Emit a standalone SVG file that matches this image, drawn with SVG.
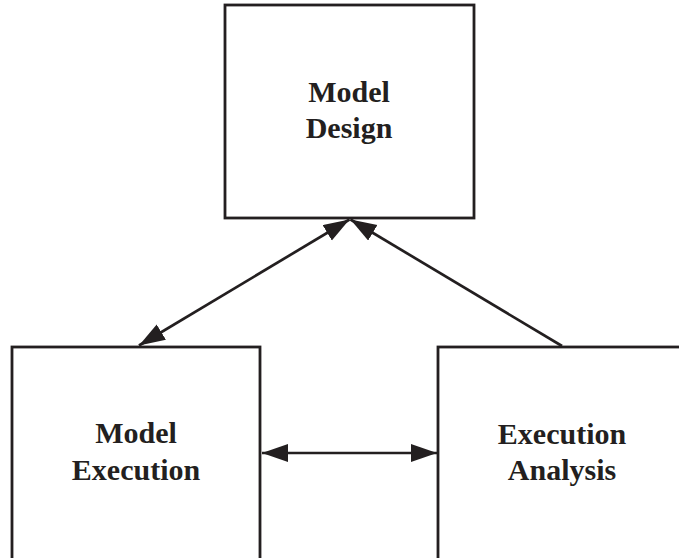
<svg xmlns="http://www.w3.org/2000/svg" width="679" height="558" viewBox="0 0 679 558">
<style>
.box{fill:#fff;stroke:#231f20;stroke-width:2.8}
.lbl{font-family:"Liberation Serif","Times New Roman",serif;font-weight:bold;font-size:30px;fill:#231f20;text-anchor:middle}
.conn{stroke:#231f20;stroke-width:2.7;fill:none}
</style>
<defs>
<marker id="ah" markerUnits="userSpaceOnUse" markerWidth="28" markerHeight="20" refX="26" refY="9" orient="auto-start-reverse" viewBox="0 0 28 20">
<path d="M0,0 L26,9 L0,18 z" fill="#231f20"/>
</marker>
</defs>
<rect width="679" height="558" fill="#fff"/>
<g id="model-design">
<rect class="box" x="225" y="5" width="249" height="213"/>
<text class="lbl" x="349" y="102">Model</text>
<text class="lbl" x="349" y="138">Design</text>
</g>
<g id="model-execution">
<rect class="box" x="12" y="347" width="248" height="230"/>
<text class="lbl" x="136" y="443">Model</text>
<text class="lbl" x="136" y="480">Execution</text>
</g>
<g id="execution-analysis">
<rect class="box" x="438" y="347" width="250" height="230"/>
<text class="lbl" x="562" y="444">Execution</text>
<text class="lbl" x="562" y="480">Analysis</text>
</g>
<g id="connectors">
<line class="conn" x1="139" y1="345.5" x2="349.5" y2="219.5" marker-start="url(#ah)" marker-end="url(#ah)"/>
<line class="conn" x1="562" y1="346" x2="350.5" y2="219.5" marker-end="url(#ah)"/>
<line class="conn" x1="262" y1="453" x2="437" y2="453" marker-start="url(#ah)" marker-end="url(#ah)"/>
</g>
</svg>
